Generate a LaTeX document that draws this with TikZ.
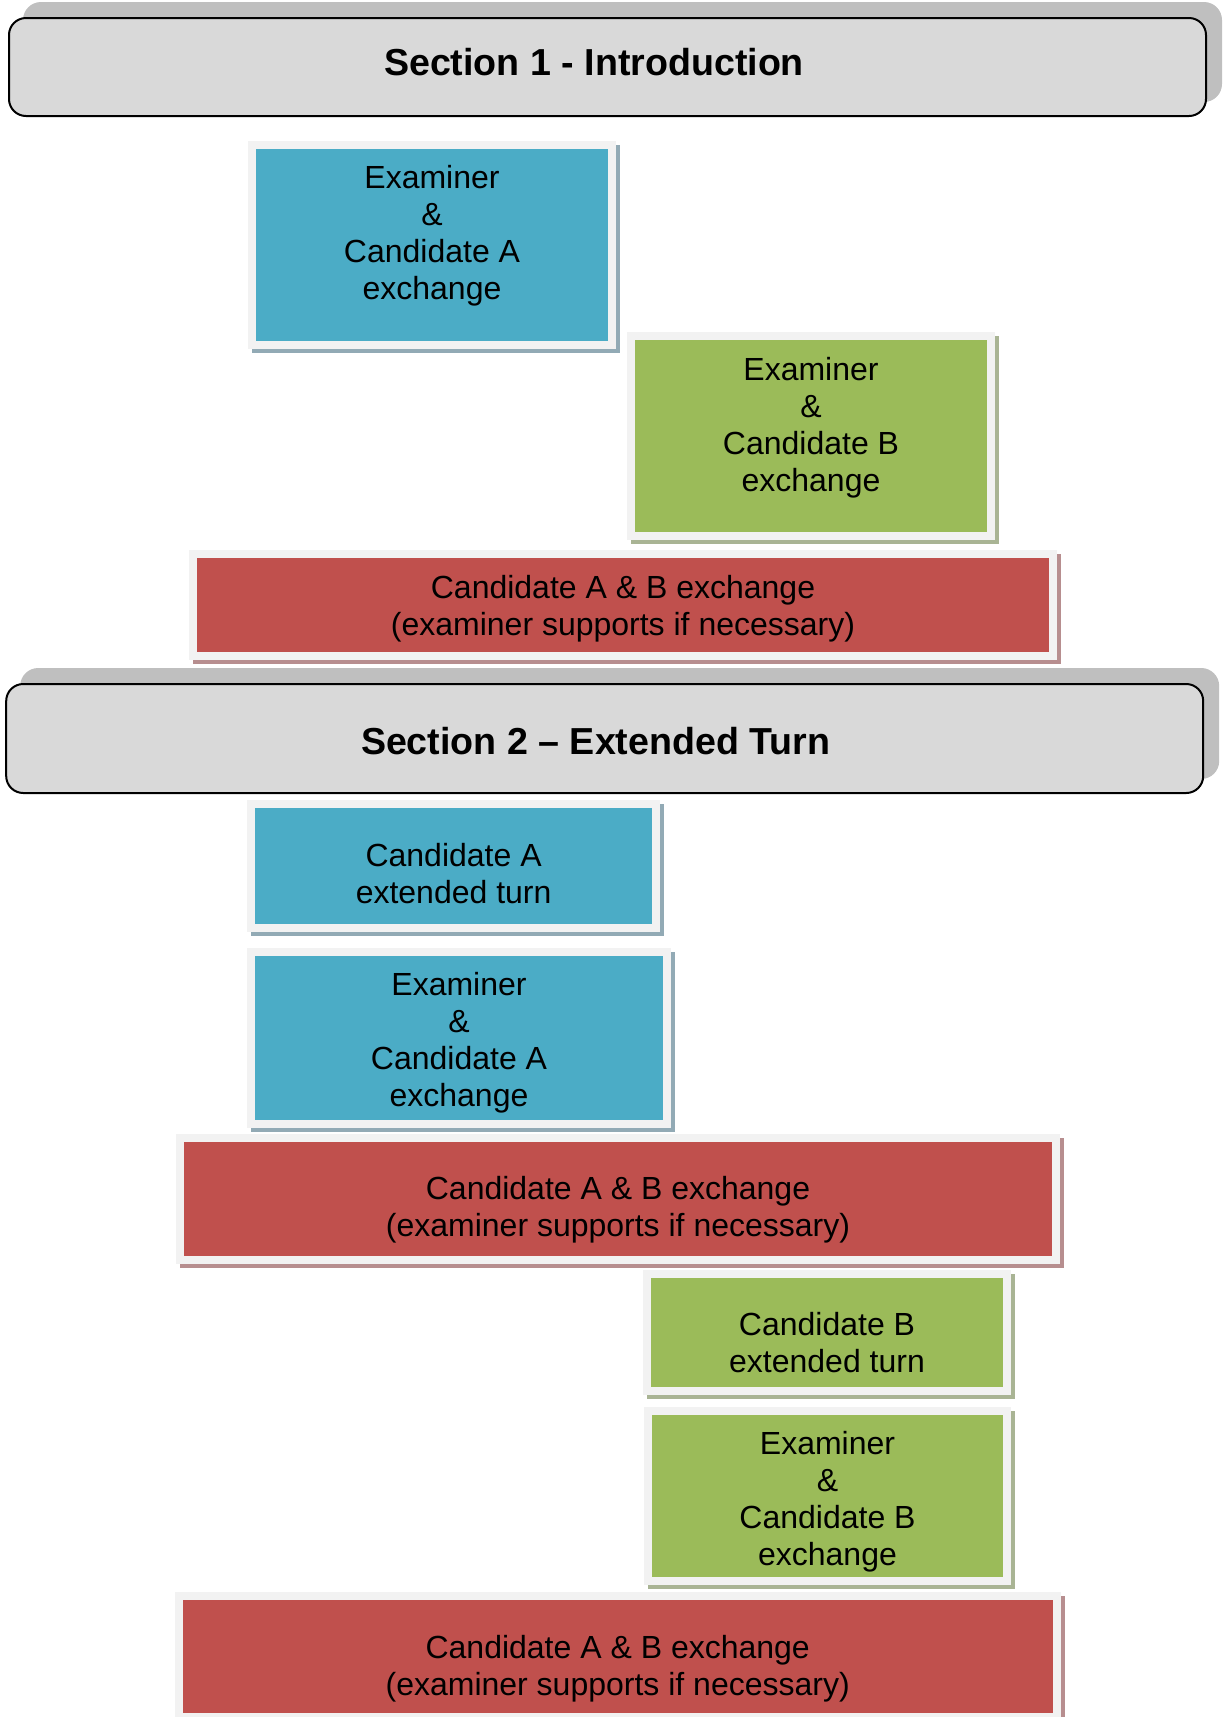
\documentclass[tikz,border=0pt]{standalone}
\usepackage{fontspec}
\setmainfont{Liberation Sans}
\usepackage{tikz}

\definecolor{tileBlue}{HTML}{4BACC6}
\definecolor{tileGreen}{HTML}{9BBB59}
\definecolor{tileRed}{HTML}{C0504D}
\definecolor{shadeBlue}{HTML}{92AAB5}
\definecolor{shadeGreen}{HTML}{A9B494}
\definecolor{shadeRed}{HTML}{B78E8F}
\definecolor{frameC}{HTML}{F2F2F2}
\definecolor{hdrFill}{HTML}{D9D9D9}
\definecolor{hdrShade}{HTML}{BFBFBF}

% text block sitting on its last baseline, shifted inside the tile
\newcommand{\tiletext}[3][0pt]{\raisebox{#2}[0pt][0pt]{\makebox[0pt]{\hspace*{#1}\begin{tabular}[b]{@{}c@{}}#3\end{tabular}}}}

\tikzset{
  tile/.style={rectangle, inner sep=0pt, line width=8pt, draw=frameC,
    font=\fontsize{32}{37}\selectfont},
  tileA/.style={tile, fill=tileBlue,
    preaction={fill=shadeBlue, draw=shadeBlue, transform canvas={shift={(4,4)}}}},
  tileB/.style={tile, fill=tileGreen,
    preaction={fill=shadeGreen, draw=shadeGreen, transform canvas={shift={(4,4)}}}},
  tileAB/.style={tile, fill=tileRed,
    preaction={fill=shadeRed, draw=shadeRed, transform canvas={shift={(4,4)}}}},
  header/.style={rectangle, rounded corners=17pt, inner sep=0pt, fill=hdrFill,
    draw=black, line width=2pt, minimum width=1197pt,
    font=\fontsize{37.6}{44}\selectfont\bfseries,
    preaction={fill=hdrShade, draw=hdrShade, transform canvas={shift={(15,-15)}}}}
}

\begin{document}
\begin{tikzpicture}[x=1pt,y=-1pt]
\path[use as bounding box] (0,0) rectangle (1227,1717);
\clip (0,0) rectangle (1227,1717);

% Section 1
\node[header, minimum height=98pt] (hdrIntro) at (607.5,67)
{\tiletext[-27pt]{-8pt}{Section 1 - Introduction}};
\node[tileA, minimum width=360pt, minimum height=200pt] (exchA) at (432,245)
{\tiletext{-54.5pt}{Examiner\\\&\\Candidate A\\exchange}};
\node[tileB, minimum width=360pt, minimum height=200pt] (exchB) at (811,436)
{\tiletext{-55pt}{Examiner\\\&\\Candidate B\\exchange}};
\node[tileAB, minimum width=860pt, minimum height=102pt] (abOne) at (623,605)
{\tiletext{-30.5pt}{Candidate A \& B exchange\\(examiner supports if necessary)}};

% Section 2
\node[header, minimum height=109pt] (hdrTurn) at (604.7,738.5)
{\tiletext[-18pt]{-15.5pt}{Section 2 -- Extended Turn}};
\node[tileA, minimum width=405pt, minimum height=124pt] (turnA) at (453.6,866)
{\tiletext{-37pt}{Candidate A\\extended turn}};
\node[tileA, minimum width=416pt, minimum height=172pt] (exchA2) at (459,1038)
{\tiletext{-68pt}{Examiner\\\&\\Candidate A\\exchange}};
\node[tileAB, minimum width=876pt, minimum height=122pt] (abTwo) at (618,1198.5)
{\tiletext{-38pt}{Candidate A \& B exchange\\(examiner supports if necessary)}};
\node[tileB, minimum width=360pt, minimum height=117pt] (turnB) at (827,1332.7)
{\tiletext{-40pt}{Candidate B\\extended turn}};
\node[tileB, minimum width=359pt, minimum height=170pt] (exchB2) at (827.5,1495.5)
{\tiletext{-70pt}{Examiner\\\&\\Candidate B\\exchange}};
\node[tileAB, minimum width=878pt, minimum height=121pt] (abThree) at (617.7,1656.5)
{\tiletext{-38.5pt}{Candidate A \& B exchange\\(examiner supports if necessary)}};
\end{tikzpicture}
\end{document}
